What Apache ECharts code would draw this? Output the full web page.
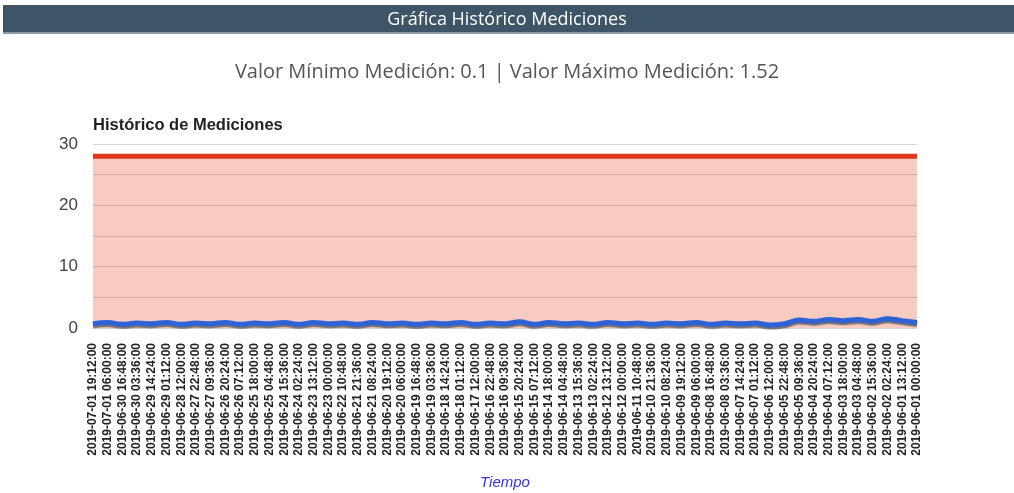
<!DOCTYPE html>
<html>
<head>
<meta charset="utf-8">
<script src="https://cdn.jsdelivr.net/npm/echarts@6/dist/echarts.min.js"></script>
<style>
  html, body { margin: 0; padding: 0; background: #fff; }
  #chartArea { width: 1014px; height: 493px; }
</style>
</head>
<body>
<div id="chartArea"></div>
<script>
// fechas del eje x (de la mas reciente a la mas antigua)
var fechas = [
  '2019-07-01 19:12:00', '2019-07-01 06:00:00', '2019-06-30 16:48:00', '2019-06-30 03:36:00',
  '2019-06-29 14:24:00', '2019-06-29 01:12:00', '2019-06-28 12:00:00', '2019-06-27 22:48:00',
  '2019-06-27 09:36:00', '2019-06-26 20:24:00', '2019-06-26 07:12:00', '2019-06-25 18:00:00',
  '2019-06-25 04:48:00', '2019-06-24 15:36:00', '2019-06-24 02:24:00', '2019-06-23 13:12:00',
  '2019-06-23 00:00:00', '2019-06-22 10:48:00', '2019-06-21 21:36:00', '2019-06-21 08:24:00',
  '2019-06-20 19:12:00', '2019-06-20 06:00:00', '2019-06-19 16:48:00', '2019-06-19 03:36:00',
  '2019-06-18 14:24:00', '2019-06-18 01:12:00', '2019-06-17 12:00:00', '2019-06-16 22:48:00',
  '2019-06-16 09:36:00', '2019-06-15 20:24:00', '2019-06-15 07:12:00', '2019-06-14 18:00:00',
  '2019-06-14 04:48:00', '2019-06-13 15:36:00', '2019-06-13 02:24:00', '2019-06-12 13:12:00',
  '2019-06-12 00:00:00', '2019-06-11 10:48:00', '2019-06-10 21:36:00', '2019-06-10 08:24:00',
  '2019-06-09 19:12:00', '2019-06-09 06:00:00', '2019-06-08 16:48:00', '2019-06-08 03:36:00',
  '2019-06-07 14:24:00', '2019-06-07 01:12:00', '2019-06-06 12:00:00', '2019-06-05 22:48:00',
  '2019-06-05 09:36:00', '2019-06-04 20:24:00', '2019-06-04 07:12:00', '2019-06-03 18:00:00',
  '2019-06-03 04:48:00', '2019-06-02 15:36:00', '2019-06-02 02:24:00', '2019-06-01 13:12:00',
  '2019-06-01 00:00:00'
];

// mediciones
var mediciones = [
  0.7, 0.9, 0.6, 0.8, 0.7, 0.9, 0.6, 0.8, 0.7, 0.9, 0.6, 0.8, 0.7, 0.9, 0.6,
  0.9, 0.7, 0.8, 0.6, 0.9, 0.7, 0.8, 0.6, 0.8, 0.7, 0.9, 0.6, 0.8, 0.7, 1.0,
  0.6, 0.9, 0.7, 0.8, 0.6, 0.9, 0.7, 0.8, 0.6, 0.8, 0.7, 0.9, 0.6, 0.8, 0.7,
  0.8, 0.5, 0.7, 1.3, 1.1, 1.4, 1.2, 1.4, 1.1, 1.52, 1.2, 0.9
];

// limite maximo
var limite = 28;
var yTicks = [0, 10, 20, 30];

var myChart = echarts.init(document.getElementById('chartArea'));

var options = {
    backgroundColor: '#fff',
    animation: false,
    graphic: [
        {
            type: 'rect',
            z: 0,
            shape: { x: 3, y: 5, width: 1011, height: 28 },
            style: { fill: '#3e5467' }
        },
        {
            type: 'rect',
            z: 0,
            shape: { x: 3, y: 32, width: 1011, height: 2 },
            style: { fill: '#8a9aa8' }
        }
    ],
    title: [
        {
            text: 'Gráfica Histórico Mediciones',
            left: 'center',
            top: 6,
            z: 10,
            textStyle: { color: '#fff', fontSize: 18, fontWeight: 'normal', fontFamily: 'Open Sans' }
        },
        {
            text: 'Valor Mínimo Medición: 0.1 | Valor Máximo Medición: 1.52',
            left: 'center',
            top: 57,
            textStyle: { color: '#555', fontSize: 20, fontWeight: 'normal', fontFamily: 'Open Sans' }
        },
        {
            text: 'Histórico de Mediciones',
            left: 88,
            top: 112,
            textStyle: { color: '#222', fontSize: 16.5, fontWeight: 'bold', fontFamily: 'Liberation Sans' }
        }
    ],
    grid: {
        left: 93,
        right: 97,
        top: 144,
        bottom: 165
    },
    xAxis: {
        type: 'category',
        data: fechas,
        boundaryGap: false,
        name: 'Tiempo',
        nameLocation: 'middle',
        nameGap: 147,
        nameTextStyle: { color: '#3333ee', fontStyle: 'italic', fontSize: 15, fontFamily: 'Liberation Sans' },
        axisLine: { show: false },
        axisTick: { show: false },
        splitLine: { show: false },
        axisLabel: {
            interval: 0,
            rotate: 90,
            margin: 15,
            fontSize: 12,
            fontWeight: 'bold',
            color: '#222',
            fontFamily: 'Liberation Sans'
        }
    },
    yAxis: {
        type: 'value',
        min: 0,
        max: 30,
        interval: 5,
        axisLine: { show: false },
        axisTick: { show: false },
        splitLine: { lineStyle: { color: '#d4d4d4', width: 1 } },
        axisLabel: {
            margin: 15,
            fontSize: 17,
            color: '#444',
            fontFamily: 'Liberation Sans',
            formatter: function (v) {
                return yTicks.indexOf(v) >= 0 ? String(v) : '';
            }
        }
    },
    series: [
        {
            name: 'Límite',
            type: 'line',
            data: fechas.map(function () { return limite; }),
            symbol: 'none',
            lineStyle: { color: '#e0381a', width: 5 },
            areaStyle: { color: 'rgba(226, 78, 48, 0.42)' },
            z: 2
        },
        {
            name: 'Medición',
            type: 'line',
            data: mediciones,
            smooth: 0.4,
            symbol: 'none',
            lineStyle: {
                color: '#2d62d8',
                width: 5,
                shadowColor: 'rgba(90, 90, 90, 0.8)',
                shadowOffsetY: 2,
                shadowBlur: 1
            },
            z: 3
        }
    ]
};

myChart.setOption(options);
</script>
</body>
</html>
